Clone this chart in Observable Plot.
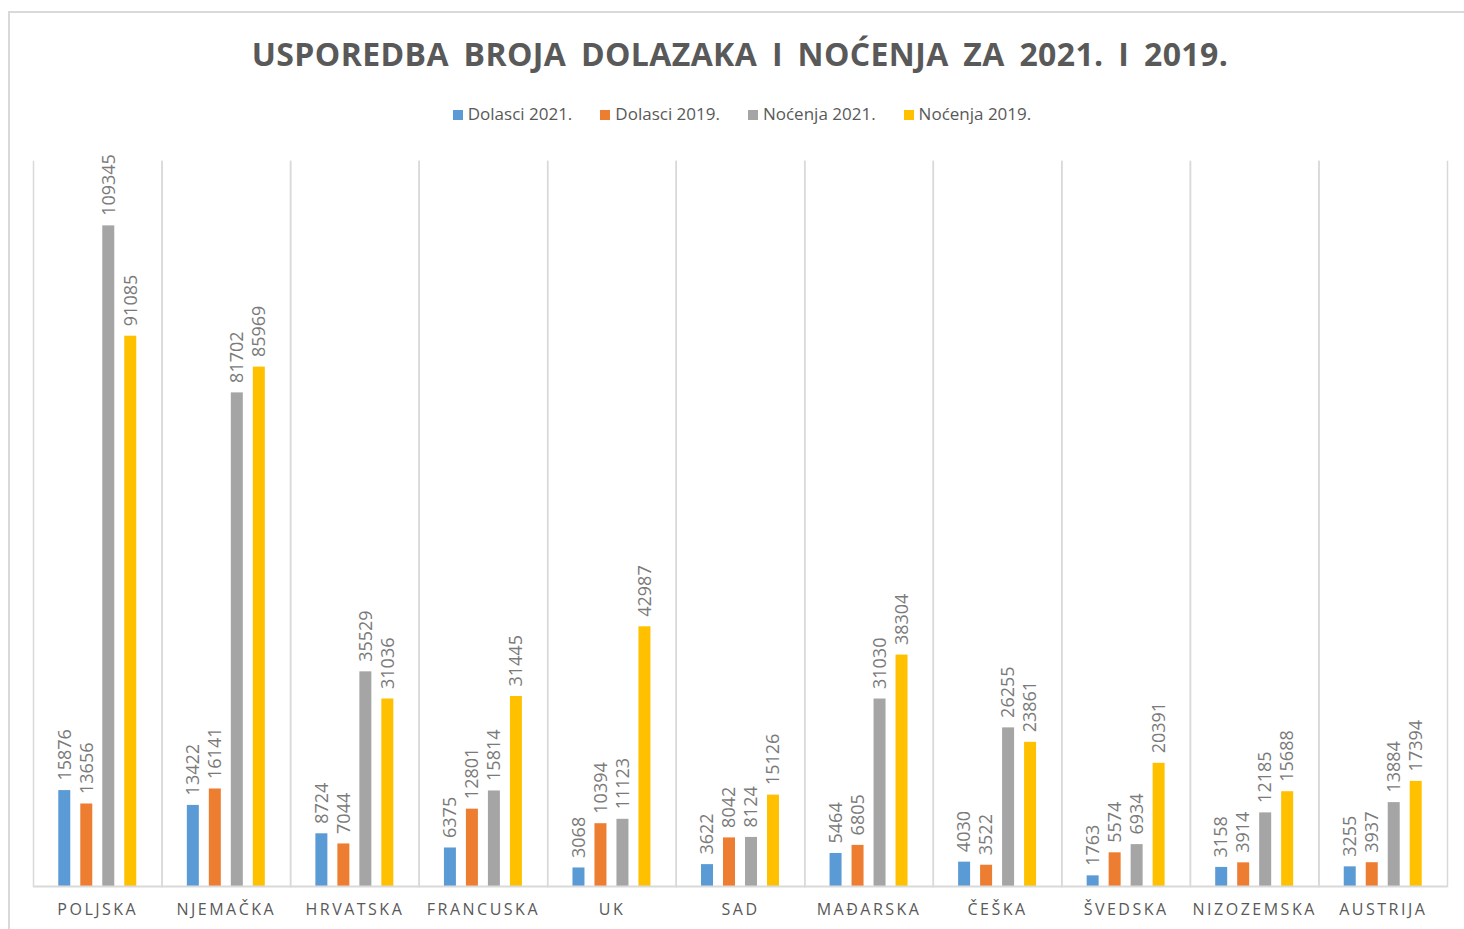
<!DOCTYPE html>
<html>
<head>
<meta charset="utf-8">
<script src="https://cdn.jsdelivr.net/npm/d3@7"></script>
<script src="https://cdn.jsdelivr.net/npm/@observablehq/plot@0.6"></script>
<style>
  body { margin: 0; background: #fff; font-family: "Open Sans", sans-serif; overflow: hidden; }
  #border { position: absolute; left: 8px; top: 11px; width: 1500px; height: 1000px;
            border-top: 2px solid #d9d9d9; border-left: 2px solid #d9d9d9; }
  #title { position: absolute; left: 8px; width: 1464px; top: 32px; text-align: center;
           font-weight: bold; font-size: 32px; color: #595959; white-space: pre; }
  #legend { position: absolute; left: 10px; width: 1464px; top: 102px; display: flex;
            justify-content: center; align-items: center; font-size: 17px; color: #595959; }
  .item { display: flex; align-items: center; margin: 0 14px; }
  .sw { width: 10px; height: 10px; margin-right: 5px; margin-top: 2px; }
  #chart { position: absolute; left: 0; top: 140px; }
  #chart g[aria-label="fx-axis tick label"] text { letter-spacing: 2.5px; }
</style>
</head>
<body>
<div id="border"></div>
<div id="title"></div>
<div id="legend"></div>
<div id="chart"></div>
<script>
const titleText = "USPOREDBA BROJA DOLAZAKA I NOĆENJA ZA 2021. I 2019.";
const countries = ["POLJSKA","NJEMAČKA","HRVATSKA","FRANCUSKA","UK","SAD","MAĐARSKA","ČEŠKA","ŠVEDSKA","NIZOZEMSKA","AUSTRIJA"];
const series = ["Dolasci 2021.","Dolasci 2019.","Noćenja 2021.","Noćenja 2019."];
const colors = ["#5B9BD5","#ED7D31","#A5A5A5","#FFC000"];
const dolasci2021 = [15876,13422,8724,6375,3068,3622,5464,4030,1763,3158,3255];
const dolasci2019 = [13656,16141,7044,12801,10394,8042,6805,3522,5574,3914,3937];
const nocenja2021 = [109345,81702,35529,15814,11123,8124,31030,26255,6934,12185,13884];
const nocenja2019 = [91085,85969,31036,31445,42987,15126,38304,23861,20391,15688,17394];
const seriesValues = [dolasci2021, dolasci2019, nocenja2021, nocenja2019];

const data = countries.flatMap((c, i) =>
  series.map((s, j) => ({country: c, series: s, value: seriesValues[j][i]})));

// title with spacing fitted to the reference width
const title = document.getElementById("title");
title.textContent = titleText;
const ctx = document.createElement("canvas").getContext("2d");
ctx.font = 'bold 32px "Open Sans"';
const w0 = ctx.measureText(titleText).width;
const nSpaces = titleText.split(" ").length - 1;
const wordSp = 6;
const ls = Math.max(0, (976 - w0 - wordSp * nSpaces) / (titleText.length - 1));
title.style.letterSpacing = ls + "px";
title.style.wordSpacing = wordSp + "px";

// legend
const legend = document.getElementById("legend");
series.forEach((s, j) => {
  const it = document.createElement("div");
  it.className = "item";
  const sw = document.createElement("div");
  sw.className = "sw";
  sw.style.background = colors[j];
  const tx = document.createElement("span");
  tx.textContent = s;
  it.appendChild(sw); it.appendChild(tx);
  legend.appendChild(it);
});

const chart = Plot.plot({
  width: 1464,
  height: 790,
  marginLeft: 33,
  marginRight: 17,
  marginTop: 21,
  marginBottom: 44,
  style: {fontFamily: '"Open Sans", sans-serif', background: "transparent"},
  fx: {domain: countries, padding: 0, round: false, label: null},
  x: {domain: series, paddingInner: 0.4545, paddingOuter: 1.15, round: false, axis: null},
  y: {domain: [0, 120000], axis: null},
  color: {domain: series, range: colors},
  marks: [
    Plot.frame({anchor: "left", stroke: "#d9d9d9", strokeWidth: 1.5}),
    Plot.frame({anchor: "right", stroke: "#d9d9d9", strokeWidth: 1.5}),
    Plot.barY(data, {fx: "country", x: "series", y: "value", fill: "series"}),
    Plot.ruleY([0], {stroke: "#d9d9d9", strokeWidth: 2}),
    Plot.text(data, {fx: "country", x: "series", y: "value", text: d => String(d.value),
      rotate: -90, textAnchor: "start", dy: -10, fill: "#7a7a7a", fontSize: 18}),
    Plot.axisFx({anchor: "bottom", tickSize: 0, tickPadding: 17, label: null,
      fontSize: 16, fill: "#595959"})
  ]
});
document.getElementById("chart").appendChild(chart);
</script>
</body>
</html>
